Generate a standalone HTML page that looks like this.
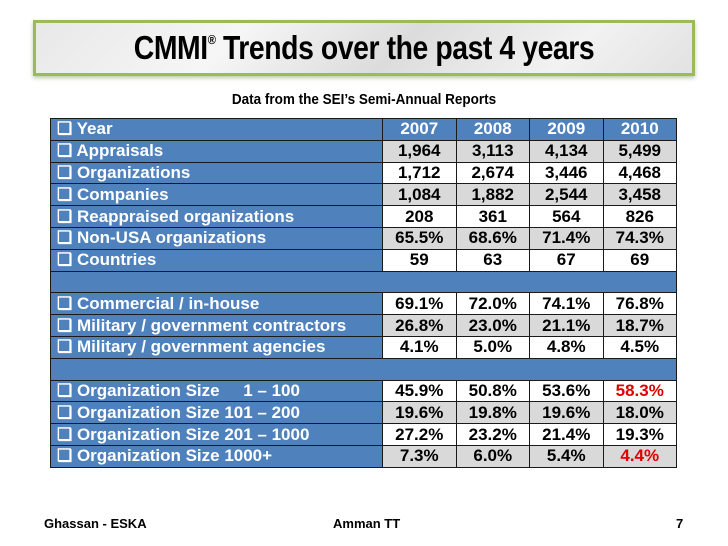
<!DOCTYPE html>
<html><head><meta charset="utf-8">
<style>
body{margin:0;width:728px;height:546px;background:#fff;position:relative;overflow:hidden;font-family:"Liberation Sans",Arial,sans-serif}
#titlebox{position:absolute;left:33px;top:20px;width:656px;height:50px;border:3px solid #9bbb59;background:linear-gradient(135deg,#e8e8e8,#f6f6f6 30%,#dcdcdc 55%,#f2f2f2 80%,#e2e2e2);box-shadow:0 2px 4px rgba(120,150,80,.5)}
#title{position:absolute;left:0;right:0;top:6px;text-align:center;font-size:33px;font-weight:bold;color:#000;letter-spacing:-0.5px;transform:scaleX(.86)}
#title sup{font-size:13px;vertical-align:15px}
#sub{position:absolute;left:0;width:728px;top:91px;text-align:center;font-size:15px;font-weight:bold;transform:scaleX(.9)}
table{position:absolute;left:50px;top:118px;border-collapse:collapse}
td{border:1px solid #1a1a1a;height:20.8px;padding:0;font-size:17px;font-weight:bold;line-height:16px}
td.l{width:332px;background:#4f81bd;color:#fff;padding-left:6px;box-sizing:border-box}
td.v{width:72.5px;text-align:center;color:#000;background:#fff}
tr.g td.v{background:#d9d9d9}
tr.h td{background:#4f81bd;color:#fff}
tr.b td{background:#4f81bd}
.r{color:#e00000!important}
.ft{position:absolute;top:516px;font-size:13px;font-weight:bold}
</style></head><body>
<div id="titlebox"><div id="title">CMMI<sup>®</sup> Trends over the past 4 years</div></div>
<div id="sub">Data from the SEI’s Semi-Annual Reports</div>
<table>
<tr class="h"><td class="l">❑ Year</td><td class="v">2007</td><td class="v">2008</td><td class="v">2009</td><td class="v">2010</td></tr>
<tr class="g"><td class="l">❑ Appraisals</td><td class="v">1,964</td><td class="v">3,113</td><td class="v">4,134</td><td class="v">5,499</td></tr>
<tr><td class="l">❑ Organizations</td><td class="v">1,712</td><td class="v">2,674</td><td class="v">3,446</td><td class="v">4,468</td></tr>
<tr class="g"><td class="l">❑ Companies</td><td class="v">1,084</td><td class="v">1,882</td><td class="v">2,544</td><td class="v">3,458</td></tr>
<tr><td class="l">❑ Reappraised organizations</td><td class="v">208</td><td class="v">361</td><td class="v">564</td><td class="v">826</td></tr>
<tr class="g"><td class="l">❑ Non-USA organizations</td><td class="v">65.5%</td><td class="v">68.6%</td><td class="v">71.4%</td><td class="v">74.3%</td></tr>
<tr><td class="l">❑ Countries</td><td class="v">59</td><td class="v">63</td><td class="v">67</td><td class="v">69</td></tr>
<tr class="b"><td colspan="5"></td></tr>
<tr><td class="l">❑ Commercial / in-house</td><td class="v">69.1%</td><td class="v">72.0%</td><td class="v">74.1%</td><td class="v">76.8%</td></tr>
<tr class="g"><td class="l">❑ Military / government contractors</td><td class="v">26.8%</td><td class="v">23.0%</td><td class="v">21.1%</td><td class="v">18.7%</td></tr>
<tr><td class="l">❑ Military / government agencies</td><td class="v">4.1%</td><td class="v">5.0%</td><td class="v">4.8%</td><td class="v">4.5%</td></tr>
<tr class="b"><td colspan="5"></td></tr>
<tr><td class="l">❑ Organization Size &nbsp;&nbsp;&nbsp;&nbsp;1 – 100</td><td class="v">45.9%</td><td class="v">50.8%</td><td class="v">53.6%</td><td class="v r">58.3%</td></tr>
<tr class="g"><td class="l">❑ Organization Size 101 – 200</td><td class="v">19.6%</td><td class="v">19.8%</td><td class="v">19.6%</td><td class="v">18.0%</td></tr>
<tr><td class="l">❑ Organization Size 201 – 1000</td><td class="v">27.2%</td><td class="v">23.2%</td><td class="v">21.4%</td><td class="v">19.3%</td></tr>
<tr class="g"><td class="l">❑ Organization Size 1000+</td><td class="v">7.3%</td><td class="v">6.0%</td><td class="v">5.4%</td><td class="v r">4.4%</td></tr>
</table>
<div class="ft" style="left:44px">Ghassan - ESKA</div>
<div class="ft" style="left:333px">Amman TT</div>
<div class="ft" style="left:676px">7</div>
</body></html>
